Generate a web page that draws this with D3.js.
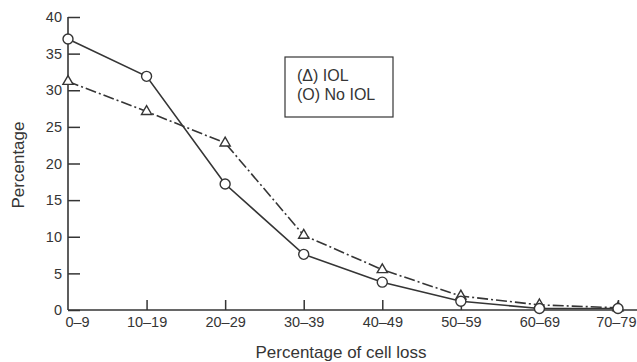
<!DOCTYPE html>
<html>
<head>
<meta charset="utf-8">
<script src="https://cdn.jsdelivr.net/npm/d3@7"></script>
<style>
  body { margin: 0; background: #fff; }
  svg { display: block; font-family: "Liberation Sans", Arial, sans-serif; }
</style>
</head>
<body>
<div id="content"></div>
<script>
var categories = ["0–9", "10–19", "20–29", "30–39", "40–49", "50–59", "60–69", "70–79"];
var iolValues = [31.2, 27.1, 22.8, 10.2, 5.5, 1.9, 0.7, 0.3];
var noIolValues = [37.0, 31.9, 17.2, 7.6, 3.8, 1.2, 0.2, 0.2];
var yTicks = [0, 5, 10, 15, 20, 25, 30, 35, 40];

var ink = "#353535";

var svg = d3.select('#content')
  .append('svg')
  .attr('width', 637).attr('height', 362);

var x = d3.scalePoint().domain(categories).range([68, 618]);
var y = d3.scaleLinear().domain([0, 40]).range([310, 17]);

// y axis
var yAxis = svg.append("g")
  .attr("transform", "translate(68,0)")
  .call(d3.axisLeft(y).tickValues(yTicks).tickSize(-12).tickSizeOuter(0).tickPadding(6));
yAxis.select(".domain").remove();
yAxis.selectAll("line").attr("stroke", ink).attr("stroke-width", 1.5);
yAxis.selectAll("text").attr("fill", ink).style("font-size", "14.5px");

svg.append("line")
  .attr("x1", 68).attr("x2", 68)
  .attr("y1", y(0)).attr("y2", y(40))
  .attr("stroke", ink).attr("stroke-width", 1.6);

// x axis
var xAxis = svg.append("g")
  .attr("transform", "translate(0," + y(0) + ")")
  .call(d3.axisBottom(x).tickSize(-10).tickSizeOuter(0).tickPadding(7));
xAxis.select(".domain").remove();
xAxis.selectAll("line").attr("stroke", ink).attr("stroke-width", 1.5)
  .filter(function(d) { return d === categories[0]; }).remove();
xAxis.selectAll("text").attr("fill", ink).style("font-size", "14.5px");
// first and last labels nudged so they stay clear of the y axis / right edge
xAxis.selectAll("text").filter(function(d) { return d === categories[0]; }).attr("x", 9);
xAxis.selectAll("text").filter(function(d) { return d === categories[categories.length - 1]; })
  .attr("text-anchor", "end").attr("x", 18);

svg.append("line")
  .attr("x1", 68).attr("x2", 637)
  .attr("y1", y(0)).attr("y2", y(0))
  .attr("stroke", ink).attr("stroke-width", 1.6);

// axis titles
svg.append("text")
  .attr("x", 341).attr("y", 358)
  .attr("text-anchor", "middle")
  .attr("fill", ink)
  .style("font-size", "17px")
  .text("Percentage of cell loss");

svg.append("text")
  .attr("transform", "translate(24,165) rotate(-90)")
  .attr("text-anchor", "middle")
  .attr("fill", ink)
  .style("font-size", "17px")
  .text("Percentage");

// lines
var line = d3.line()
  .x(function(d, i) { return x(categories[i]); })
  .y(function(d) { return y(d); });

svg.append("path")
  .datum(iolValues)
  .attr("d", line)
  .attr("fill", "none")
  .attr("stroke", ink)
  .attr("stroke-width", 1.6)
  .attr("stroke-dasharray", "11,3,2,3");

svg.append("path")
  .datum(noIolValues)
  .attr("d", line)
  .attr("fill", "none")
  .attr("stroke", ink)
  .attr("stroke-width", 1.6);

// markers
svg.selectAll(".tri")
  .data(iolValues)
  .enter().append("path")
  .attr("class", "tri")
  .attr("transform", function(d, i) { return "translate(" + x(categories[i]) + "," + y(d) + ")"; })
  .attr("d", d3.symbol().type(d3.symbolTriangle).size(45))
  .attr("fill", "#fff")
  .attr("stroke", ink)
  .attr("stroke-width", 1.4);

svg.selectAll(".dot")
  .data(noIolValues)
  .enter().append("circle")
  .attr("class", "dot")
  .attr("cx", function(d, i) { return x(categories[i]); })
  .attr("cy", function(d) { return y(d); })
  .attr("r", 5)
  .attr("fill", "#fff")
  .attr("stroke", ink)
  .attr("stroke-width", 1.4);

// legend
svg.append("rect")
  .attr("x", 285).attr("y", 57)
  .attr("width", 108).attr("height", 60)
  .attr("fill", "none")
  .attr("stroke", ink)
  .attr("stroke-width", 1.2);

svg.append("text")
  .attr("x", 297).attr("y", 81)
  .attr("fill", ink)
  .style("font-size", "16px")
  .text("(\u0394) IOL");

svg.append("text")
  .attr("x", 297).attr("y", 100)
  .attr("fill", ink)
  .style("font-size", "16px")
  .text("(O) No IOL");
</script>
</body>
</html>
